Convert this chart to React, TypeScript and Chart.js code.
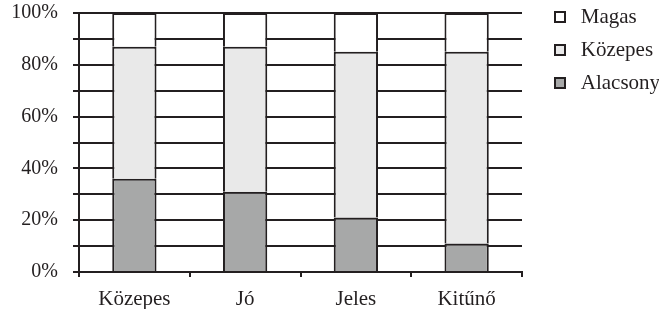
import React, { useEffect, useRef } from 'react';
import { Chart, registerables } from 'chart.js';

Chart.register(...registerables);

const categories = ['Közepes', 'Jó', 'Jeles', 'Kitűnő'];
const alacsony = [36, 31, 21, 11];
const kozepes = [51, 56, 64, 74];
const magas = [13, 13, 15, 15];
const seriesNames = ['Alacsony', 'Közepes', 'Magas'];
const yMin = 0;
const yMax = 100;
const yStep = 10;
const yLabelEvery = 20;

const INK = '#231f20';
const FAMILY = '"Liberation Serif", "Times New Roman", serif';
const FONT_Y = { family: FAMILY, size: 20 };
const FONT_X = { family: FAMILY, size: 21 };

export default function App() {
  const ref = useRef<HTMLCanvasElement | null>(null);

  useEffect(() => {
    if (!ref.current) return;
    const shiftLegend = {
      id: 'shiftLegend',
      afterLayout(chart: any) {
        const lg = chart.legend;
        if (lg) {
          lg.left += 21;
          lg.right += 21;
          lg.top -= 5.5;
        }
      },
    };
    const chart = new Chart(ref.current, {
      type: 'bar',
      data: {
        labels: categories,
        datasets: [
          { label: seriesNames[0], data: alacsony, backgroundColor: '#a7a8a8', borderColor: INK, borderWidth: 2 },
          { label: seriesNames[1], data: kozepes, backgroundColor: '#e9e9e9', borderColor: INK, borderWidth: 2 },
          { label: seriesNames[2], data: magas, backgroundColor: '#ffffff', borderColor: INK, borderWidth: 2 },
        ],
      },
      options: {
        responsive: false,
        animation: false,
        devicePixelRatio: 1,
        layout: { padding: { top: 0, left: 0, bottom: 0, right: 20 } },
        datasets: { bar: { barPercentage: 0.4, categoryPercentage: 1.0 } },
        plugins: {
          tooltip: { enabled: false },
          legend: {
            position: 'right',
            align: 'start',
            reverse: true,
            maxWidth: 117,
            labels: {
              boxWidth: 10,
              boxHeight: 10,
              padding: 12,
              color: INK,
              font: FONT_X,
              generateLabels: (c: any) =>
                (Chart.defaults.plugins.legend.labels.generateLabels as any)(c).map((l: any) => ({ ...l, text: ' ' + l.text })),
            },
          },
        },
        scales: {
          x: {
            stacked: true,
            grid: { display: true, drawOnChartArea: false, drawTicks: true, tickLength: 5, offset: true, color: INK, lineWidth: 2 },
            border: { display: true, color: INK, width: 2 },
            ticks: { padding: 10, color: INK, font: FONT_X },
            afterFit: (s: any) => { s.height = 37; },
          },
          y: {
            stacked: true,
            min: yMin,
            max: yMax,
            ticks: {
              stepSize: yStep,
              autoSkip: false,
              padding: 15,
              color: INK,
              font: FONT_Y,
              callback: (v: any) => (Number(v) % yLabelEvery === 0 ? v + '%' : ''),
            },
            grid: { color: INK, lineWidth: 2, tickLength: 6, drawTicks: true },
            border: { display: true, color: INK, width: 2 },
            afterFit: (s: any) => { s.width = 79; s.paddingTop = 13; s.paddingBottom = 0; },
          },
        },
      },
      plugins: [shiftLegend],
    } as any);
    return () => chart.destroy();
  }, []);

  return (
    <div style={{ position: 'absolute', left: 0, top: 0, width: 659, height: 309, background: '#fff' }}>
      <canvas ref={ref} width={659} height={309} style={{ width: 659, height: 309, display: 'block' }} />
    </div>
  );
}
